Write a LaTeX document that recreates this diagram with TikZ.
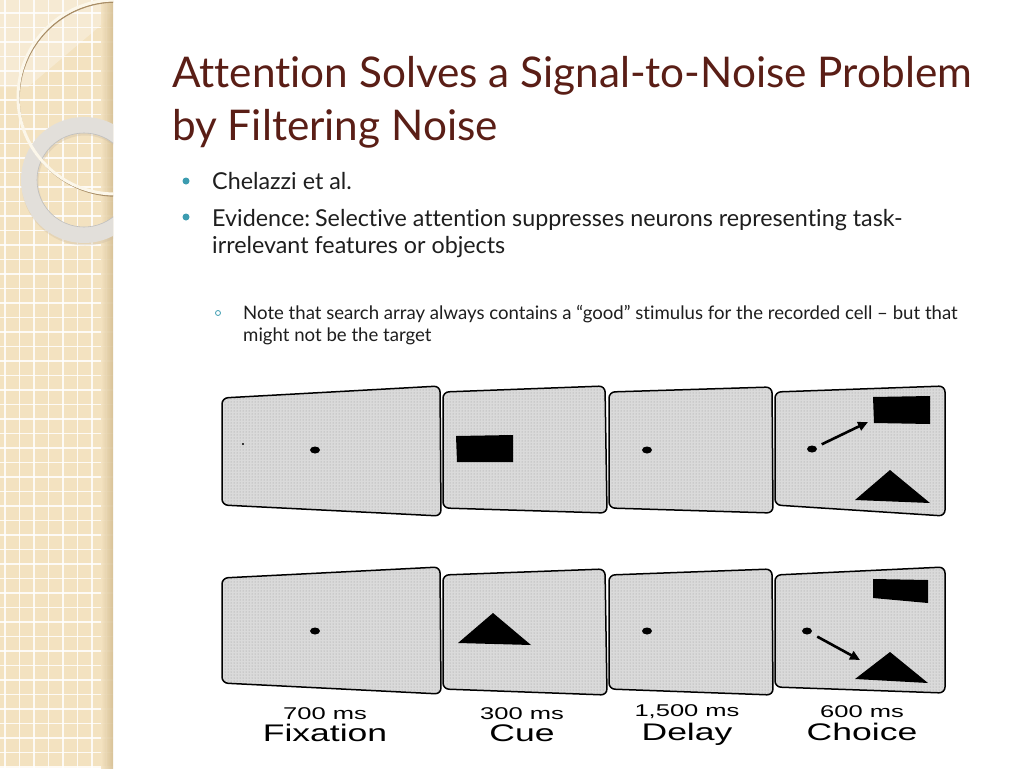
\documentclass[tikz,border=0pt]{standalone}
\usepackage{fontspec}
\setmainfont{Lato}[Ligatures=NoCommon]
\newfontfamily\figfont{Liberation Sans}
\usetikzlibrary{arrows.meta,patterns,shapes.geometric}
\definecolor{TitleBrown}{HTML}{5A1E16}
\definecolor{BulletTeal}{HTML}{3C9CB0}
\definecolor{Paper}{HTML}{F3E2C0}
\definecolor{PaperEdge}{HTML}{D6BF94}
\definecolor{RingGrey}{HTML}{E2DFDA}
\definecolor{RingLine}{HTML}{FCF7EA}
\definecolor{RingShadow}{HTML}{A88D66}
\definecolor{InkDark}{HTML}{1E1E1E}
\definecolor{Screen}{HTML}{DADADA}
\tikzset{
  gridline/.style={draw=white, line width=1.1pt, opacity=0.85},
  titletext/.style={anchor=base west, inner sep=0pt, text=TitleBrown,
             font=\fontsize{42.3}{50}\selectfont},
  bodytext/.style={anchor=base west, inner sep=0pt, text=InkDark,
             font=\fontsize{23.3}{28}\selectfont},
  subtext/.style={anchor=base west, inner sep=0pt, text=InkDark,
             font=\fontsize{18.6}{22}\selectfont},
  bulletdot/.style={circle, fill=BulletTeal, minimum size=7pt, inner sep=0pt},
  subbullet/.style={circle, draw=BulletTeal, line width=0.8pt, minimum size=5pt, inner sep=0pt},
  screen/.style={preaction={fill=Screen}, pattern=dots, pattern color=black!40,
             draw=black, line width=1.5pt, rounded corners=6pt},
  fixdot/.style={ellipse, fill=black, minimum width=10pt, minimum height=7pt, inner sep=0pt},
  gaze/.style={line width=2.6pt, -{Triangle[length=10pt,width=9pt]}},
  dur/.style={anchor=base, inner sep=0pt, xscale=1.5,
             font=\figfont\fontsize{17}{20}\selectfont},
  phase/.style={anchor=base, inner sep=0pt, xscale=1.48,
             font=\figfont\fontsize{24}{28}\selectfont},
}
\begin{document}
\begin{tikzpicture}[x=1pt, y=-1pt]
\fill[white] (0,0) rectangle (1024,768);
\useasboundingbox (0,0) rectangle (1024,768);
% side band
\begin{scope}
\clip (0,0) rectangle (113,768);
\fill[Paper] (0,0) rectangle (113,768);
\foreach \g in {5,19.5,...,113} \draw[gridline] (\g,0) -- (\g,768);
\foreach \g in {13,27.5,...,768} \draw[gridline] (0,\g) -- (113,\g);
\fill[white, opacity=0.3] (0,0) -- (113,0) -- (113,15) -- (28,87) -- (0,87) -- cycle;
\shade[left color=Paper, right color=PaperEdge, opacity=0.9] (101,0) rectangle (113,768);
\draw[RingShadow!60, line width=17pt, opacity=0.35] (85,182) circle [radius=55];
\draw[RingGrey, line width=16pt] (84,180) circle [radius=55];
\draw[black!25, line width=0.6pt] (84,180) circle [radius=47];
\draw[RingShadow, line width=1.4pt] (116,99) circle [radius=97];
\draw[RingLine, line width=3pt] (115,97) circle [radius=97];
\end{scope}
% title
\node[titletext] (title1) at (172,87) {Attention Solves a Signal-to-Noise Problem};
\node[titletext] (title2) at (172,140) {by Filtering Noise};
% bullets
\node[bulletdot] (b1) at (186,181) {};
\node[bodytext] (chel) at (212,189) {Chelazzi et al.};
\node[bulletdot] (b2) at (186,217) {};
\node[bodytext] (evid) at (212,226) {Evidence:\kern-1pt\ Selective attention suppresses neurons representing task-};
\node[bodytext] (evid2) at (212,253) {irrelevant features or objects};
\node[subbullet] (b3) at (218,313) {};
\node[subtext] (note) at (243,319) {Note that search array always contains a “good” stimulus for the recorded cell – but that};
\node[subtext] (note2) at (243,341) {might not be the target};
% top row of screens
\path[screen] (775,392) -- (945,386) -- (945,516) -- (775,505) -- cycle;
\path[screen] (609,392) -- (772,387) -- (773,513) -- (609,508) -- cycle;
\path[screen] (443,392) -- (605,386) -- (607,513) -- (443,508) -- cycle;
\path[screen] (222,398) -- (440,386) -- (441,516) -- (222,505) -- cycle;
\node[fixdot] (dotA1) at (315,450) {};
\fill (243,444) circle [radius=1.2];
\fill (456,436) -- (513,435) -- (513,462) -- (457,462) -- cycle;
\node[fixdot] (dotA3) at (647,450) {};
\node[fixdot] (dotA4) at (812,449) {};
\fill (873,397) -- (930,396) -- (930,424) -- (874,423) -- cycle;
\coordinate (aimA) at (868,422);
\fill (855,500) -- (890,470) -- (930,503) -- cycle;
\draw[gaze, shorten <=6pt] (dotA4) -- (aimA);
% bottom row of screens
\path[screen] (775,575) -- (945,567) -- (945,693) -- (775,687) -- cycle;
\path[screen] (609,575) -- (772,569) -- (773,695) -- (609,689) -- cycle;
\path[screen] (443,575) -- (605,569) -- (607,695) -- (443,689) -- cycle;
\path[screen] (222,578) -- (440,567) -- (441,694) -- (222,683) -- cycle;
\node[fixdot] (dotB1) at (315,631) {};
\fill (458,643) -- (493,613) -- (531,645) -- cycle;
\node[fixdot] (dotB3) at (647,631) {};
\node[fixdot] (dotB4) at (807,631) {};
\fill (873,579) -- (928,580) -- (928,603) -- (873,598) -- cycle;
\coordinate (aimB) at (860,660);
\fill (855,679) -- (890,652) -- (928,683) -- cycle;
\draw[gaze, shorten <=7pt] (dotB4) -- (aimB);
% labels
\node[dur] (durFix) at (325,719) {700 ms};
\node[phase] (phFix) at (325,741) {Fixation};
\node[dur] (durCue) at (522,719) {300 ms};
\node[phase] (phCue) at (522,741) {Cue};
\node[dur] (durDel) at (687,716) {1,500 ms};
\node[phase] (phDel) at (687,740) {Delay};
\node[dur] (durCho) at (862,717) {600 ms};
\node[phase] (phCho) at (862,740) {Choice};
\end{tikzpicture}
\end{document}
